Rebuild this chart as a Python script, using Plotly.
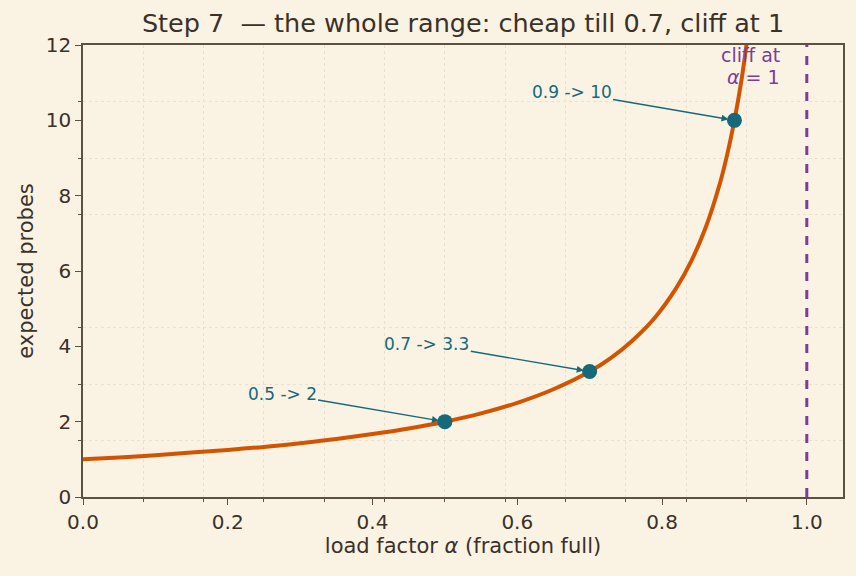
import plotly.graph_objects as go

# curve values
alpha = [0.0, 0.05, 0.1, 0.15, 0.2, 0.25, 0.3, 0.35, 0.4, 0.45, 0.5, 0.55, 0.6, 0.65,
         0.7, 0.73, 0.76, 0.79, 0.82, 0.84, 0.86, 0.88, 0.89, 0.9, 0.91, 0.92]
probes = [1.0, 1.05, 1.11, 1.18, 1.25, 1.33, 1.43, 1.54, 1.67, 1.82, 2.0, 2.22, 2.5, 2.86,
          3.33, 3.7, 4.17, 4.76, 5.56, 6.25, 7.14, 8.33, 9.09, 10.0, 11.1, 12.5]

# highlighted points
pt_alpha = [0.5, 0.7, 0.9]
pt_probes = [2.0, 3.33, 10.0]
pt_labels = ["0.5 -> 2", "0.7 -> 3.3", "0.9 -> 10"]

cliff_x = 1.0
cliff_lines = ["cliff at", "<i>α</i> = 1"]
cliff_line_y = [11.73, 11.15]

BG = "#faf3e4"
INK = "#3b3128"
AX = "#5c5142"
ORANGE = "#d35400"
TEAL = "#17697a"
PURPLE = "#7d3c98"
FONT = "DejaVu Sans"

fig = go.Figure()
fig.add_trace(go.Scatter(x=alpha, y=probes, mode="lines", line=dict(color=ORANGE, width=4, shape="spline"),
                         showlegend=False, hoverinfo="skip"))
fig.add_trace(go.Scatter(x=[cliff_x, cliff_x], y=[0, 12], mode="lines",
                         line=dict(color=PURPLE, width=3, dash="dash"), showlegend=False))
fig.add_trace(go.Scatter(x=pt_alpha, y=pt_probes, mode="markers",
                         marker=dict(color=TEAL, size=15), showlegend=False))

for a, p, lab in zip(pt_alpha, pt_probes, pt_labels):
    fig.add_annotation(x=a, y=p, ax=a - 0.225, ay=p + 0.74, axref="x", ayref="y",
                       xref="x", yref="y", text=lab, showarrow=True,
                       arrowhead=2, arrowsize=1, arrowwidth=1.4, arrowcolor=TEAL,
                       standoff=6, font=dict(family=FONT, size=17, color=TEAL))

for txt, yy in zip(cliff_lines, cliff_line_y):
    fig.add_annotation(x=0.966, y=yy, xref="x", yref="y", text=txt,
                       showarrow=False, xanchor="right", yanchor="middle", align="right",
                       font=dict(family=FONT, size=19, color=PURPLE))

axis_common = dict(showline=True, linecolor=AX, linewidth=1.5, mirror=True,
                   ticks="outside", ticklen=6, tickwidth=1.3, tickcolor=AX,
                   showgrid=False, zeroline=False,
                   tickfont=dict(family=FONT, size=20, color=INK))

fig.update_layout(
    width=856, height=576,
    paper_bgcolor=BG, plot_bgcolor=BG,
    margin=dict(l=83, r=13, t=45, b=79),
    title=dict(text="Step 7  — the whole range: cheap till 0.7, cliff at 1",
               xref="paper", x=0.5, xanchor="center", y=0.96, yanchor="middle",
               font=dict(family=FONT, size=25.5, color=INK)),
    xaxis=dict(range=[0, 1.05], dtick=0.2, tick0=0, tickformat=".1f",
               title=dict(text="load factor <i>α</i> (fraction full)", font=dict(family=FONT, size=21, color=INK), standoff=6),
               minor=dict(dtick=1/12, tick0=0, showgrid=True, gridcolor="#e9e0cd", griddash="dot", gridwidth=1,
                          ticks="outside", ticklen=3, tickcolor=AX),
               **axis_common),
    yaxis=dict(range=[0, 12], dtick=2, tick0=0,
               title=dict(text="expected probes", font=dict(family=FONT, size=21, color=INK), standoff=6),
               minor=dict(dtick=1.5, tick0=0, showgrid=True, gridcolor="#e9e0cd", griddash="dot", gridwidth=1,
                          ticks="outside", ticklen=3, tickcolor=AX),
               **axis_common),
)

fig.write_html("out.html")
